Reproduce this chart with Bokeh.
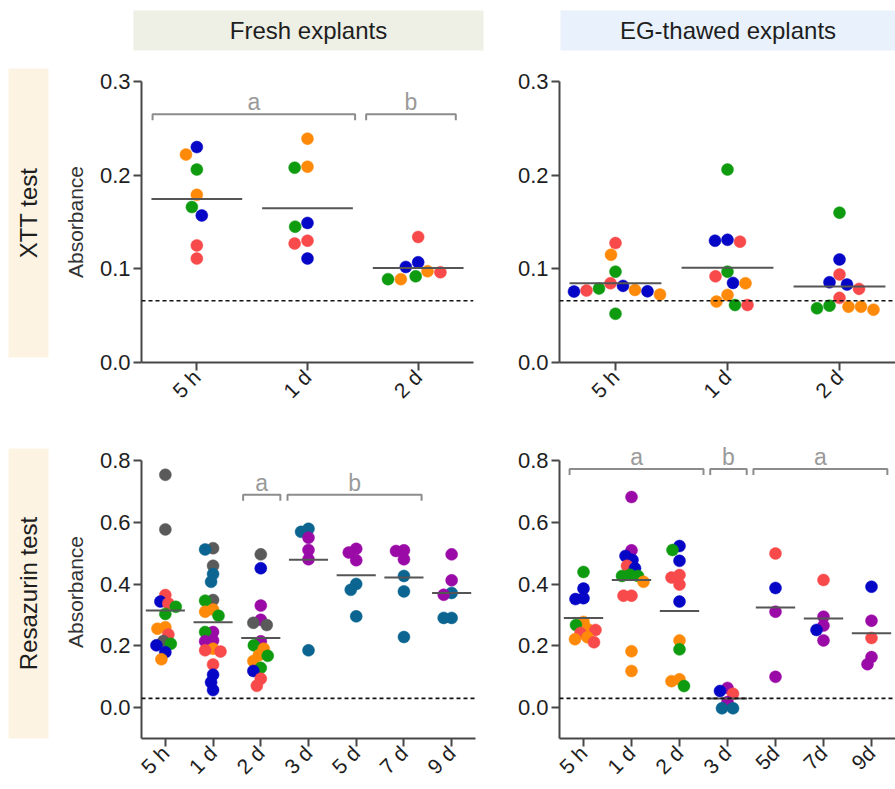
import math
import numpy as np
from bokeh.plotting import figure
from bokeh.layouts import column, row
from bokeh.models import Span, FixedTicker, Label, Range1d, PrintfTickFormatter, ColumnDataSource
from bokeh.embed import file_html
from bokeh.resources import INLINE

FONT = "Liberation Sans"

# ---------------- data ----------------
xtt_days = ["5 h", "1 d", "2 d"]
res_fresh_days = ["5 h", "1 d", "2 d", "3 d", "5 d", "7 d", "9 d"]
res_eg_days = ["5 h", "1 d", "2 d", "3 d", "5d", "7d", "9d"]

# donor colour keys
donor_colors = {"B": "#0606c6", "O": "#ff8a0a", "G": "#0f9b10", "R": "#f84a4a",
                "K": "#5a5a5a", "T": "#0b6590", "P": "#9a0aa6"}

# XTT test, fresh explants
xtt_fresh_values = [
    [0.230, 0.222, 0.206, 0.179, 0.166, 0.157, 0.125, 0.111],
    [0.239, 0.209, 0.208, 0.149, 0.145, 0.130, 0.127, 0.111],
    [0.134, 0.107, 0.102, 0.0975, 0.0964, 0.092, 0.089, 0.089],
]
xtt_fresh_donors = [
    ["B", "O", "G", "O", "G", "B", "R", "R"],
    ["O", "O", "G", "B", "G", "R", "R", "B"],
    ["R", "B", "B", "O", "R", "G", "O", "G"],
]

# XTT test, EG-thawed explants
xtt_eg_values = [
    [0.1275, 0.115, 0.097, 0.0846, 0.0818, 0.079, 0.0775, 0.0768, 0.076, 0.0757, 0.0725, 0.052],
    [0.206, 0.131, 0.130, 0.129, 0.097, 0.092, 0.085, 0.0846, 0.0721, 0.065, 0.0614, 0.0614],
    [0.160, 0.110, 0.094, 0.0857, 0.0832, 0.0786, 0.069, 0.0607, 0.0596, 0.0596, 0.0579, 0.0564],
]
xtt_eg_donors = [
    ["R", "O", "G", "R", "B", "G", "O", "R", "B", "B", "O", "G"],
    ["G", "B", "B", "R", "G", "R", "B", "O", "O", "O", "G", "R"],
    ["G", "B", "R", "B", "B", "R", "R", "G", "O", "O", "G", "O"],
]

# Resazurin test, fresh explants
res_fresh_values = [
    [0.755, 0.578, 0.365, 0.344, 0.338, 0.327, 0.304, 0.261, 0.256, 0.237, 0.216, 0.207, 0.202, 0.180, 0.157],
    [0.517, 0.513, 0.460, 0.433, 0.408, 0.349, 0.347, 0.318, 0.311, 0.298, 0.245, 0.245, 0.218, 0.215,
     0.191, 0.186, 0.182, 0.140, 0.107, 0.082, 0.057],
    [0.497, 0.452, 0.331, 0.285, 0.275, 0.268, 0.215, 0.202, 0.191, 0.170, 0.168, 0.151, 0.129, 0.119, 0.094, 0.071],
    [0.580, 0.570, 0.551, 0.511, 0.481, 0.186],
    [0.515, 0.503, 0.478, 0.401, 0.382, 0.296],
    [0.510, 0.508, 0.481, 0.427, 0.377, 0.229],
    [0.497, 0.413, 0.372, 0.366, 0.291, 0.291],
]
res_fresh_donors = [
    ["K", "K", "R", "B", "R", "G", "G", "O", "O", "R", "K", "G", "B", "B", "O"],
    ["K", "T", "K", "T", "T", "K", "G", "O", "O", "G", "P", "G", "P", "P", "O", "R", "R", "R", "B", "B", "B"],
    ["K", "B", "P", "P", "K", "K", "P", "G", "O", "O", "G", "O", "G", "B", "R", "R"],
    ["T", "T", "P", "P", "P", "T"],
    ["P", "P", "P", "T", "T", "T"],
    ["P", "P", "P", "T", "T", "T"],
    ["P", "P", "T", "P", "T", "T"],
]

# Resazurin test, EG-thawed explants
res_eg_values = [
    [0.440, 0.386, 0.355, 0.352, 0.278, 0.268, 0.255, 0.252, 0.242, 0.228, 0.222, 0.212],
    [0.683, 0.510, 0.492, 0.479, 0.460, 0.452, 0.431, 0.427, 0.427, 0.408, 0.363, 0.363, 0.183, 0.119],
    [0.524, 0.511, 0.476, 0.430, 0.422, 0.399, 0.344, 0.218, 0.189, 0.092, 0.086, 0.070],
    [0.064, 0.054, 0.045, 0.018, -0.002, -0.002],
    [0.500, 0.388, 0.311, 0.100],
    [0.414, 0.295, 0.266, 0.252, 0.218],
    [0.392, 0.282, 0.226, 0.164, 0.141],
]
res_eg_donors = [
    ["G", "B", "B", "B", "O", "G", "O", "R", "R", "O", "O", "R"],
    ["P", "P", "B", "B", "R", "B", "G", "G", "G", "O", "R", "R", "O", "O"],
    ["B", "G", "B", "R", "R", "R", "B", "O", "G", "O", "O", "G"],
    ["P", "B", "R", "P", "T", "T"],
    ["R", "B", "P", "P"],
    ["R", "P", "P", "B", "P"],
    ["B", "P", "R", "P", "P"],
]

xtt_blank = 0.066
res_blank = 0.030

# statistical groupings: (letter, first x, last x), bracket level
xtt_fresh_brackets = [("a", -0.40, 1.43), ("b", 1.53, 2.34)]
xtt_fresh_bracket_y = 0.265
res_fresh_brackets = [("a", 1.63, 2.41), ("b", 2.56, 5.37)]
res_fresh_bracket_y = 0.690
res_eg_brackets = [("a", -0.29, 2.50), ("b", 2.64, 3.40), ("a", 3.54, 6.33)]
res_eg_bracket_y = 0.774


# ---------------- helpers ----------------
def swarm(vals, px_y, mind, maxoff, step=0.5):
    """Greedy beeswarm: horizontal pixel offsets avoiding overlap."""
    order = np.argsort(-np.asarray(vals), kind="stable")
    cands = [0.0]
    k = 1
    while k * step <= maxoff:
        cands += [-k * step, k * step]
        k += 1
    placed, offs = [], [0.0] * len(vals)
    for i in order:
        y = vals[i] * px_y
        chosen, bestc, bestd = None, 0.0, -1.0
        for c in cands:
            d = min((math.hypot(c - px, y - py) for px, py in placed), default=1e9)
            if d >= mind:
                chosen = c
                break
            if d > bestd:
                bestd, bestc = d, c
        if chosen is None:
            chosen = bestc
        offs[i] = chosen
        placed.append((chosen, y))
    return offs


def style_axes(p):
    for ax in p.axis:
        ax.axis_line_color = "#474747"
        ax.axis_line_width = 2
        ax.major_tick_line_color = "#474747"
        ax.major_tick_line_width = 2
        ax.major_tick_out = 8
        ax.major_tick_in = 0
        ax.minor_tick_line_color = None
        ax.major_label_text_font = FONT
        ax.major_label_text_color = "#1e1e1e"
        ax.major_label_standoff = 3
    p.yaxis.major_label_text_font_size = "22px"
    p.xaxis.major_label_text_font_size = "21px"


def make_panel(values, donors, cats, blank, brackets, bracket_y, ylabel,
               width, height, borders, yr, ybounds, yticks, mind, maxoff):
    bl, br, bt, bb = borders
    n = len(cats)
    p = figure(width=width, height=height, output_backend="svg", toolbar_location=None,
               x_range=Range1d(-0.5, n - 0.5), y_range=Range1d(*yr),
               min_border_left=bl, min_border_right=br, min_border_top=bt, min_border_bottom=bb,
               background_fill_color="white", border_fill_color="white", outline_line_color=None,
               frame_align=False)
    p.grid.visible = False
    fw = width - bl - br
    fh = height - bt - bb
    pxx = fw / n
    pxy = fh / (yr[1] - yr[0])

    p.add_layout(Span(location=blank, dimension="width", line_color="#111111",
                      line_width=1.6, line_dash="4 3"))

    xs, ys, cs = [], [], []
    for gi, (vals, dons) in enumerate(zip(values, donors)):
        offs = swarm(vals, pxy, mind, maxoff)
        for v, d, o in zip(vals, dons, offs):
            xs.append(gi + o / pxx)
            ys.append(v)
            cs.append(donor_colors[d])
    src = ColumnDataSource(dict(x=xs, y=ys, c=cs))
    p.scatter("x", "y", source=src, size=12, fill_color="c", line_color="c", line_width=0.5)

    means = [float(np.mean(v)) for v in values]
    p.segment(x0=[i - 0.41 for i in range(n)], x1=[i + 0.41 for i in range(n)],
              y0=means, y1=means, line_color="#555555", line_width=2)

    if brackets:
        leg = 6.0 / pxy
        bxs = [[a, a, b, b] for _, a, b in brackets]
        bys = [[bracket_y - leg, bracket_y, bracket_y, bracket_y - leg] for _ in brackets]
        p.multi_line(bxs, bys, line_color="#8c8c8c", line_width=2)
        for lab, a, b in brackets:
            p.add_layout(Label(x=(a + b) / 2, y=bracket_y + 12.0 / pxy, text=lab,
                               text_align="center", text_baseline="alphabetic",
                               text_color="#9a9a9a", text_font=FONT, text_font_size="23px"))

    p.xaxis.ticker = FixedTicker(ticks=list(range(n)))
    p.xaxis.major_label_overrides = {i: c for i, c in enumerate(cats)}
    p.xaxis.major_label_orientation = math.pi / 4
    p.yaxis.ticker = FixedTicker(ticks=yticks)
    p.yaxis.formatter = PrintfTickFormatter(format="%.1f")
    p.yaxis.bounds = ybounds
    style_axes(p)
    if ylabel:
        p.yaxis.axis_label = ylabel
        p.yaxis.axis_label_text_font = FONT
        p.yaxis.axis_label_text_font_style = "normal"
        p.yaxis.axis_label_text_font_size = "21px"
        p.yaxis.axis_label_text_color = "#333333"
        p.yaxis.axis_label_standoff = 10
    return p


def box_fig(width, height, borders, color, text, angle=0.0):
    bl, br, bt, bb = borders
    p = figure(width=width, height=height, output_backend="svg", toolbar_location=None,
               x_range=Range1d(0, 1), y_range=Range1d(0, 1), x_axis_type=None, y_axis_type=None,
               min_border_left=bl, min_border_right=br, min_border_top=bt, min_border_bottom=bb,
               background_fill_color=color, border_fill_color="white", outline_line_color=None,
               frame_align=False)
    p.add_layout(Label(x=0.5, y=0.5, text=text, text_align="center", text_baseline="middle",
                       angle=angle, text_font=FONT, text_font_size="24px", text_color="#1e1e1e"))
    return p


# ---------------- figures ----------------
h1 = box_fig(490, 55, (133, 7, 10, 5), "#eef0e6", "Fresh explants")
h2 = box_fig(405, 55, (70, 0, 10, 5), "#e9f2fc", "EG-thawed explants")

lab1 = box_fig(60, 375, (8, 12, 13, 73), "#fdf3e3", "XTT test", math.pi / 2)
lab2 = box_fig(60, 359, (8, 12, 18, 51), "#fdf3e3", "Resazurin test", math.pi / 2)

top_yr = (0.0, 0.3)
top_ticks = [0.0, 0.1, 0.2, 0.3]
bot_yr = (-0.1, 0.85)
bot_ticks = [0.0, 0.2, 0.4, 0.6, 0.8]

tl = make_panel(xtt_fresh_values, xtt_fresh_donors, xtt_days, xtt_blank,
                xtt_fresh_brackets, xtt_fresh_bracket_y, "Absorbance",
                430, 375, (77, 17, 26, 68), top_yr, (0.0, 0.3), top_ticks, 13, 40)
tr = make_panel(xtt_eg_values, xtt_eg_donors, xtt_days, xtt_blank,
                [], None, None,
                405, 375, (69, 0, 26, 68), top_yr, (0.0, 0.3), top_ticks, 12.5, 45)
bl = make_panel(res_fresh_values, res_fresh_donors, res_fresh_days, res_blank,
                res_fresh_brackets, res_fresh_bracket_y, "Absorbance",
                430, 359, (78, 15, 15, 48), bot_yr, (-0.1, 0.8), bot_ticks, 8, 14)
br = make_panel(res_eg_values, res_eg_donors, res_eg_days, res_blank,
                res_eg_brackets, res_eg_bracket_y, None,
                405, 359, (69, 0, 15, 48), bot_yr, (-0.1, 0.8), bot_ticks, 8, 14)

layout = column(row(h1, h2), row(lab1, tl, tr), row(lab2, bl, br))

open("out.html", "w").write(file_html(layout, INLINE))
